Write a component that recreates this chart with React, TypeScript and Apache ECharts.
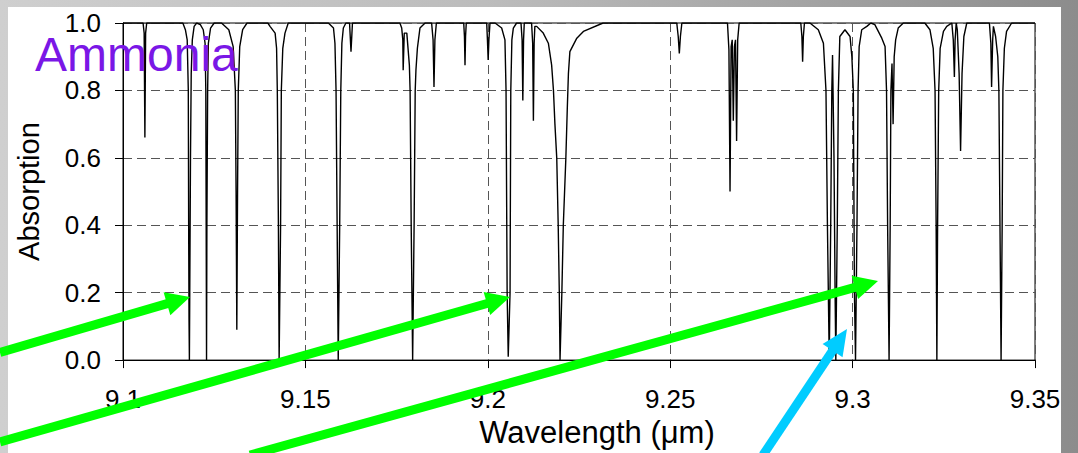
import React, { useEffect, useRef } from "react";
import * as echarts from "echarts";

const FONT = "'Liberation Sans', Arial, Helvetica, sans-serif";

const titleText = "Ammonia";
const xName = "Wavelength (μm)";
const yName = "Absorption";

const xMin = 9.1;
const xMax = 9.35;
const xStep = 0.05;
const yMin = 0;
const yMax = 1;
const yStep = 0.2;

// [wavelength (µm), absorption]
const spectrum: [number, number][] = [
  [9.1, 1.0],
  [9.1055, 1.0], [9.1058, 0.97], [9.106, 0.66], [9.1062, 0.97], [9.1065, 1.0],
  [9.1164, 1.0], [9.1171, 0.98], [9.1176, 0.95], [9.1179, 0.8], [9.118, 0.4], [9.1181, 0.12], [9.1182, 0.0], [9.1183, 0.2], [9.1185, 0.6], [9.1187, 0.85], [9.119, 0.95], [9.1195, 0.99], [9.1202, 1.0],
  [9.1212, 0.995], [9.122, 0.98], [9.1225, 0.94], [9.1227, 0.8], [9.1228, 0.4], [9.1229, 0.0], [9.123, 0.4], [9.1232, 0.8], [9.1234, 0.94], [9.124, 0.985], [9.125, 1.0],
  [9.127, 1.0], [9.129, 0.98], [9.1302, 0.93], [9.1308, 0.8], [9.131, 0.5], [9.1312, 0.09], [9.1314, 0.5], [9.1316, 0.8], [9.132, 0.93], [9.1328, 0.98], [9.134, 1.0],
  [9.1397, 1.0], [9.1403, 0.99], [9.1417, 0.97], [9.1421, 0.925], [9.1423, 0.8], [9.1426, 0.4], [9.1428, 0.0], [9.1432, 0.4], [9.1434, 0.8], [9.1438, 0.925], [9.1444, 0.97], [9.1453, 1.0],
  [9.1563, 1.0], [9.1577, 0.985], [9.1581, 0.94], [9.1584, 0.8], [9.1587, 0.4], [9.159, 0.0], [9.1594, 0.4], [9.1597, 0.8], [9.16, 0.94], [9.1604, 0.985], [9.1611, 1.0],
  [9.1621, 1.0], [9.1625, 0.915], [9.1629, 1.0],
  [9.1759, 1.0], [9.1764, 0.985], [9.1767, 0.95], [9.1768, 0.86], [9.1771, 0.97], [9.1778, 0.97], [9.1785, 0.875], [9.1787, 0.8], [9.179, 0.4], [9.1794, 0.0], [9.1798, 0.4], [9.1801, 0.8], [9.1803, 0.86], [9.1807, 0.925], [9.1814, 0.985], [9.1828, 1.0],
  [9.1846, 1.0], [9.185, 0.95], [9.18525, 0.81], [9.1855, 0.95], [9.1859, 1.0],
  [9.1934, 1.0], [9.1936, 0.96], [9.19375, 0.875], [9.1939, 0.96], [9.1941, 1.0],
  [9.1997, 1.0], [9.1999, 0.95], [9.2001, 0.89], [9.2003, 0.95], [9.2006, 1.0],
  [9.202, 1.0], [9.2038, 0.985], [9.2047, 0.95], [9.205, 0.8], [9.2053, 0.2], [9.2056, 0.01], [9.2061, 0.2], [9.2063, 0.8], [9.2066, 0.95], [9.207, 0.985], [9.2079, 1.0],
  [9.2091, 1.0], [9.2094, 0.95], [9.2096, 0.77], [9.2098, 0.95], [9.21, 1.0],
  [9.212, 1.0], [9.2123, 0.94], [9.2125, 0.71], [9.2127, 0.94], [9.2129, 0.99],
  [9.2134, 0.99], [9.2152, 0.97], [9.2166, 0.94], [9.2175, 0.875], [9.218, 0.8], [9.2184, 0.7], [9.2189, 0.6], [9.2193, 0.4], [9.2196, 0.2], [9.2198, 0.0], [9.2203, 0.2], [9.2207, 0.4], [9.2214, 0.6], [9.2218, 0.75], [9.2221, 0.85], [9.2225, 0.915], [9.2244, 0.955], [9.2262, 0.975], [9.2316, 1.0],
  [9.2518, 1.0], [9.2522, 0.96], [9.2525, 0.91], [9.2528, 0.96], [9.2532, 1.0],
  [9.2657, 1.0], [9.2661, 0.92], [9.2664, 0.5], [9.2667, 0.93], [9.267, 0.95], [9.2673, 0.71], [9.2676, 0.93], [9.2679, 0.95], [9.2682, 0.65], [9.2685, 0.95], [9.2689, 1.0],
  [9.2858, 1.0], [9.2861, 0.96], [9.2863, 0.885], [9.2865, 0.96], [9.2868, 1.0],
  [9.2883, 1.0], [9.2906, 0.98], [9.292, 0.94], [9.2927, 0.8], [9.2931, 0.4], [9.2936, 0.0], [9.294, 0.4], [9.2943, 0.8], [9.2945, 0.905], [9.2949, 0.6], [9.2952, 0.2], [9.2954, 0.0], [9.2958, 0.4], [9.2961, 0.8], [9.2965, 0.96], [9.2979, 0.98], [9.2993, 0.96], [9.2998, 0.9], [9.3002, 0.8], [9.3005, 0.2], [9.3008, 0.0], [9.3012, 0.4], [9.3015, 0.8], [9.3018, 0.93], [9.3025, 0.98], [9.3039, 0.99], [9.305, 1.0],
  [9.3061, 0.995], [9.308, 0.955], [9.3089, 0.93], [9.3093, 0.8], [9.3096, 0.4], [9.31, 0.0], [9.3103, 0.4], [9.3105, 0.8], [9.3108, 0.88], [9.3111, 0.7], [9.3114, 0.9], [9.3118, 0.95], [9.3125, 0.985], [9.3139, 1.0],
  [9.3198, 1.0], [9.3212, 0.98], [9.3221, 0.925], [9.3226, 0.8], [9.3229, 0.4], [9.3231, 0.0], [9.3233, 0.4], [9.3236, 0.8], [9.324, 0.925], [9.3249, 0.975], [9.3258, 0.99],
  [9.3272, 1.0], [9.3276, 0.95], [9.3279, 0.84], [9.3281, 0.95], [9.3284, 1.0], [9.3287, 0.98], [9.3292, 0.85], [9.3296, 0.62], [9.33, 0.85], [9.3305, 0.96], [9.3313, 1.0],
  [9.3375, 1.0], [9.3379, 0.94], [9.3381, 0.81], [9.3384, 0.95], [9.3386, 0.99], [9.3392, 0.96], [9.3398, 0.9], [9.3401, 0.8], [9.3404, 0.4], [9.3407, 0.0], [9.341, 0.4], [9.3412, 0.8], [9.3416, 0.925], [9.3422, 0.975], [9.3436, 1.0],
  [9.35, 1.0],
];

const GREEN = "#00ff00";
const BLUE = "#00ccff";

function arrow(x1: number, y1: number, tx: number, ty: number, color: string, headLen: number, headHalf: number, width: number) {
  const dx = tx - x1;
  const dy = ty - y1;
  const len = Math.sqrt(dx * dx + dy * dy);
  const ux = dx / len;
  const uy = dy / len;
  const nx = -uy;
  const ny = ux;
  const bx = tx - headLen * ux;
  const by = ty - headLen * uy;
  return [
    {
      type: "line",
      z: 100,
      shape: { x1, y1, x2: bx + ux * 2, y2: by + uy * 2 },
      style: { stroke: color, lineWidth: width },
      silent: true,
    },
    {
      type: "polygon",
      z: 101,
      shape: {
        points: [
          [tx, ty],
          [bx + headHalf * nx, by + headHalf * ny],
          [bx - headHalf * nx, by - headHalf * ny],
        ],
      },
      style: { fill: color },
      silent: true,
    },
  ];
}

export default function App() {
  const ref = useRef<HTMLDivElement>(null);

  useEffect(() => {
    if (!ref.current) return;
    const chart = echarts.init(ref.current, undefined, { renderer: "svg" });
    const option: any = {
      animation: false,
      backgroundColor: "transparent",
      title: {
        text: titleText,
        left: 35,
        top: 36,
        padding: 0,
        textStyle: { color: "#7a17e6", fontSize: 48, lineHeight: 36, fontWeight: "normal", fontFamily: FONT },
      },
      grid: {
        left: 123,
        width: 912,
        top: 23,
        height: 340,
        show: true,
        borderColor: "#000",
        borderWidth: 1,
        backgroundColor: "transparent",
      },
      xAxis: {
        type: "value",
        min: xMin,
        max: xMax,
        interval: xStep,
        name: xName,
        nameLocation: "middle",
        nameGap: 52,
        nameTextStyle: { fontSize: 31, color: "#000", fontFamily: FONT, padding: [0, 0, 0, 36] },
        axisLine: { show: true, lineStyle: { color: "#000", width: 1 } },
        axisTick: { show: true, length: 8, lineStyle: { color: "#000" } },
        axisLabel: {
          fontSize: 26,
          margin: 26,
          color: "#000",
          fontFamily: FONT,
          formatter: (v: number) => String(parseFloat(v.toFixed(2))),
        },
        splitLine: { show: true, lineStyle: { color: "#555", type: [9, 5], width: 1 } },
      },
      yAxis: {
        type: "value",
        min: yMin,
        max: yMax,
        interval: yStep,
        name: yName,
        nameLocation: "middle",
        nameGap: 80,
        nameRotate: 90,
        nameTextStyle: { fontSize: 29, color: "#000", fontFamily: FONT },
        axisLine: { show: true, lineStyle: { color: "#000", width: 1 } },
        axisTick: { show: true, length: 8, lineStyle: { color: "#000" } },
        axisLabel: {
          fontSize: 26,
          margin: 22,
          color: "#000",
          fontFamily: FONT,
          formatter: (v: number) => v.toFixed(1),
        },
        splitLine: { show: true, lineStyle: { color: "#555", type: [9, 5], width: 1 } },
      },
      series: [
        {
          type: "line",
          data: spectrum,
          symbol: "none",
          showSymbol: false,
          silent: true,
          clip: true,
          lineStyle: { color: "#000", width: 1.4 },
        },
      ],
      graphic: [
        ...arrow(0, 352.5, 190, 297, GREEN, 24, 12, 9),
        ...arrow(0, 442, 510, 297, GREEN, 24, 12, 9),
        ...arrow(250, 455, 878, 281, GREEN, 24, 12, 9),
        ...arrow(763, 455, 847, 329, BLUE, 26, 12, 9),
      ],
    };
    chart.setOption(option);
    return () => chart.dispose();
  }, []);

  return (
    <div
      style={{
        position: "fixed",
        left: 0,
        top: 0,
        width: 1078,
        height: 453,
        overflow: "hidden",
        background: "linear-gradient(90deg, #cfcfcf 0%, #bcbcbc 45%, #9a9a9a 85%, #8c8c8c 100%)",
      }}
    >
      <div style={{ position: "absolute", left: 8, top: 7, width: 1053, height: 446, background: "#fff" }} />
      <div ref={ref} style={{ position: "absolute", left: 0, top: 0, width: 1078, height: 453 }} />
    </div>
  );
}
